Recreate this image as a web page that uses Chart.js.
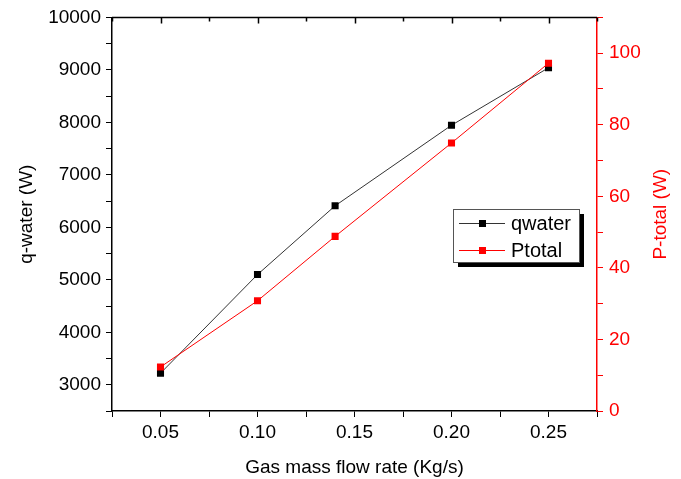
<!DOCTYPE html>
<html>
<head>
<meta charset="utf-8">
<script src="https://cdn.jsdelivr.net/npm/chart.js@4"></script>
<style>
  html, body { margin: 0; padding: 0; background: #fff; }
  #wrap { width: 681px; height: 479px; }
</style>
</head>
<body>
<div id="wrap"><canvas id="flowChart" width="681" height="479"></canvas></div>
<script>
    // values
    const flowRate = [0.05, 0.10, 0.14, 0.20, 0.25];
    const qWater = [3220, 5100, 6410, 7945, 9040];
    const pTotal = [12.3, 30.8, 48.8, 74.9, 97.2];
    const seriesNames = ['qwater', 'Ptotal'];

    const FONT = '"Liberation Sans", Arial, sans-serif';
    const RED = '#ff0000';
    const FS = 19;

    function toPoints(ys) {
        return flowRate.map((x, i) => ({ x: x, y: ys[i] }));
    }

    // top frame line, right axis title and the boxed legend
    const extras = {
        id: 'extras',
        afterDraw(chart) {
            const ctx = chart.ctx;
            const area = chart.chartArea;
            const xs = chart.scales.x;
            ctx.save();

            // top frame with inward ticks
            ctx.strokeStyle = '#000';
            ctx.lineWidth = 1.5;
            ctx.beginPath();
            ctx.moveTo(area.left, area.top);
            ctx.lineTo(area.right, area.top);
            xs.ticks.forEach(t => {
                const px = Math.round(xs.getPixelForValue(t.value)) + 0.5;
                const major = Math.round(t.value * 1000) % 50 === 0;
                ctx.moveTo(px, area.top);
                ctx.lineTo(px, area.top + (major ? 6 : 4));
            });
            ctx.stroke();

            // right axis title, reading bottom to top
            ctx.fillStyle = RED;
            ctx.font = FS + 'px ' + FONT;
            ctx.textAlign = 'center';
            ctx.textBaseline = 'middle';
            ctx.translate(661, (area.top + area.bottom) / 2);
            ctx.rotate(-Math.PI / 2);
            ctx.fillText('P-total (W)', 0, 0);
            ctx.setTransform(1, 0, 0, 1, 0, 0);

            // legend box with drop shadow
            const bx = 453, by = 209, bw = 126, bh = 53;
            ctx.fillStyle = '#000';
            ctx.fillRect(bx + 5, by + 5, bw, bh);
            ctx.fillStyle = '#fff';
            ctx.fillRect(bx, by, bw, bh);
            ctx.strokeStyle = '#555';
            ctx.lineWidth = 1;
            ctx.strokeRect(bx + 0.5, by + 0.5, bw, bh);

            chart.data.datasets.forEach((ds, i) => {
                const y = by + 14 + i * 27;
                ctx.strokeStyle = ds.borderColor;
                ctx.lineWidth = 1;
                ctx.beginPath();
                ctx.moveTo(459, y + 0.5);
                ctx.lineTo(505, y + 0.5);
                ctx.stroke();
                ctx.fillStyle = ds.pointBackgroundColor;
                ctx.fillRect(479, y - 3, 7, 7);
                ctx.fillStyle = '#000';
                ctx.font = '20px ' + FONT;
                ctx.textAlign = 'left';
                ctx.textBaseline = 'middle';
                ctx.fillText(ds.label, 511, y + 1);
            });
            ctx.restore();
        }
    };

    const ctx = document.getElementById('flowChart').getContext('2d');
    const flowChart = new Chart(ctx, {
        type: 'line',
        data: {
            datasets: [{
                label: seriesNames[0],
                data: toPoints(qWater),
                yAxisID: 'y',
                borderColor: '#333',
                borderWidth: 1,
                pointStyle: 'rect',
                pointRadius: 5,
                pointBackgroundColor: '#000',
                pointBorderWidth: 0,
                order: 2
            }, {
                label: seriesNames[1],
                data: toPoints(pTotal),
                yAxisID: 'y2',
                borderColor: RED,
                borderWidth: 1,
                pointStyle: 'rect',
                pointRadius: 5,
                pointBackgroundColor: RED,
                pointBorderWidth: 0,
                order: 1
            }]
        },
        options: {
            responsive: false,
            animation: false,
            layout: { padding: { top: 14, left: 0, right: 0, bottom: 0 } },
            plugins: {
                legend: { display: false },
                tooltip: { enabled: false }
            },
            scales: {
                x: {
                    type: 'linear',
                    min: 0.025,
                    max: 0.275,
                    afterFit(scale) { scale.height = 68; },
                    border: { color: '#000', width: 1.5 },
                    grid: { drawOnChartArea: false, tickLength: 6, color: '#000' },
                    ticks: {
                        stepSize: 0.025,
                        autoSkip: false,
                        maxRotation: 0,
                        padding: 4,
                        color: '#000',
                        font: { family: FONT, size: FS },
                        callback: v => Math.round(v * 1000) % 50 === 0 ? v.toFixed(2) : ''
                    },
                    title: {
                        display: true,
                        text: 'Gas mass flow rate (Kg/s)',
                        color: '#000',
                        font: { family: FONT, size: FS },
                        padding: { top: 2, bottom: 0 }
                    }
                },
                y: {
                    position: 'left',
                    min: 2500,
                    max: 10000,
                    afterFit(scale) { scale.width = 112; },
                    border: { color: '#000', width: 1.5 },
                    grid: { drawOnChartArea: false, tickLength: 6, color: '#000' },
                    ticks: {
                        stepSize: 500,
                        autoSkip: false,
                        padding: 5,
                        color: '#000',
                        font: { family: FONT, size: FS },
                        callback: v => v % 1000 === 0 ? v : ''
                    },
                    title: {
                        display: true,
                        text: 'q-water (W)',
                        color: '#000',
                        font: { family: FONT, size: FS },
                        padding: { top: 15, bottom: 2 }
                    }
                },
                y2: {
                    position: 'right',
                    min: 0,
                    max: 110,
                    afterFit(scale) { scale.width = 84; },
                    border: { color: RED, width: 1.5 },
                    grid: { drawOnChartArea: false, tickLength: 6, color: RED },
                    ticks: {
                        stepSize: 10,
                        autoSkip: false,
                        padding: 6,
                        color: RED,
                        font: { family: FONT, size: FS },
                        callback: v => v % 20 === 0 ? v : ''
                    }
                }
            }
        },
        plugins: [extras]
    });
</script>
</body>
</html>
